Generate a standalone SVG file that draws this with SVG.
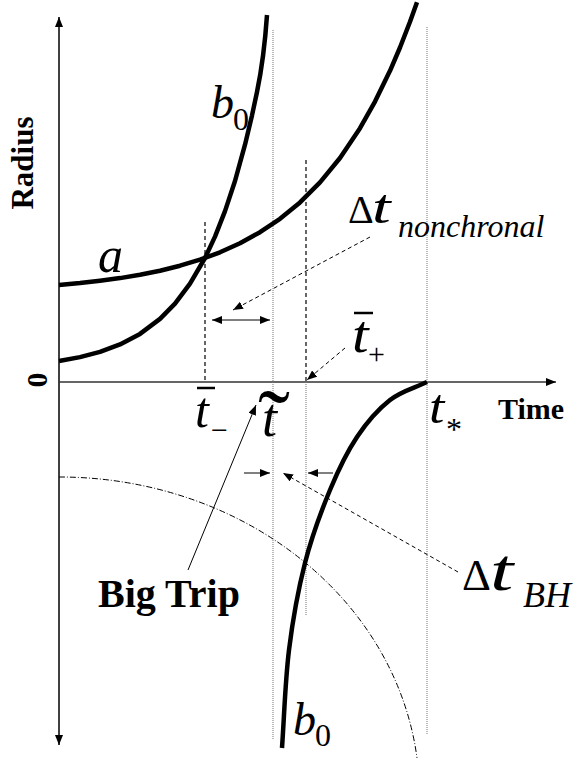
<svg xmlns="http://www.w3.org/2000/svg" width="587" height="758" viewBox="0 0 587 758" font-family="'Liberation Serif','Times New Roman',serif">
<style>
text{font-family:"Liberation Serif","Times New Roman",serif;fill:#000}
.b{font-weight:bold}
.i{font-style:italic}
.curve{fill:none;stroke:#000;stroke-width:4.5;stroke-linejoin:round}
.dash{stroke:#000;stroke-width:1.2;stroke-dasharray:4 3;fill:none}
.dot{stroke:#777;stroke-width:1;stroke-dasharray:1 1;fill:none}
.lead{stroke:#000;stroke-width:1;fill:none}
.ldash{stroke:#000;stroke-width:1;stroke-dasharray:4 3;fill:none}
.bar{stroke:#000;stroke-width:2.5}
</style>
<defs>
<marker id="ah" markerUnits="userSpaceOnUse" markerWidth="10" markerHeight="8" refX="10" refY="4" orient="auto-start-reverse"><path d="M0,0 L10,4 L0,8 z" fill="#000"/></marker>
</defs>
<g id="axes">
<line x1="59" y1="745" x2="59" y2="17" stroke="#000" stroke-width="1.5" marker-end="url(#ah)" marker-start="url(#ah)"/>
<line x1="59" y1="382" x2="556" y2="382" stroke="#333" stroke-width="1.5" marker-end="url(#ah)"/>
</g>
<g id="guides">
<line class="dash" x1="205" y1="222" x2="205" y2="382"/>
<line class="dash" x1="306" y1="160" x2="306" y2="382"/>
<line class="dot" x1="273" y1="30" x2="273" y2="740"/>
<line class="dot" x1="306" y1="382" x2="306" y2="615"/>
<line class="dot" x1="427" y1="27" x2="427" y2="735"/>
<path d="M59,477 A360 318 0 0 1 417,758" fill="none" stroke="#000" stroke-width="1" stroke-dasharray="6 2 1 2"/>
</g>
<g id="curve-a">
<path class="curve" d="M59,285 L80,283.1 L100,280.8 L120,278.1 L140,274.8 L160,270.7 L180,265.7 L200,259.7 L220,252.3 L240,243.2 L260,232.2 L280,218.8 L300,202.4 L320,182.4 L340,158 L360,128.2 L375,101.6 L390,70.8 L400,47.5 L410,21.8 L417,2.2"/>
</g>
<g id="curve-b0-upper">
<path class="curve" d="M59,361 L80,357.1 L100,351.9 L120,344.4 L140,333.9 L160,318.9 L175,303.6 L190,283.7 L205,258 L215,236.6 L225,211.1 L235,181 L245,144.7 L252,115.4 L257,92 C262,68 265.5,37 267,15"/>
</g>
<g id="curve-b0-lower">
<path class="curve" d="M427,382 C414.7,388 401.7,390.8 390,400 C378.3,409.2 367,422 357,437 C347,452 338.7,469 330,490 C321.3,511 311.8,536.3 305,563 C298.2,589.7 292.8,619.2 289,650 C285.2,680.8 284.3,715.3 282,748"/>
</g>
<g id="connectors">
<line class="lead" x1="212" y1="320" x2="270" y2="320" marker-start="url(#ah)" marker-end="url(#ah)"/>
<line class="ldash" x1="370" y1="237" x2="233" y2="310" marker-end="url(#ah)"/>
<line class="ldash" x1="345" y1="348" x2="307" y2="380" marker-end="url(#ah)"/>
<line class="lead" x1="188" y1="570" x2="256" y2="405" marker-end="url(#ah)"/>
<line class="lead" x1="244" y1="473" x2="270" y2="473" marker-end="url(#ah)"/>
<line class="lead" x1="333" y1="473" x2="308" y2="473" marker-end="url(#ah)"/>
<line class="ldash" x1="458" y1="572" x2="283" y2="473" marker-end="url(#ah)"/>
</g>
<g id="label-radius"><text class="b" x="33" y="163" font-size="31" text-anchor="middle" transform="rotate(-90 33 163)">Radius</text></g>
<g id="label-zero"><text class="b" x="47" y="380" font-size="30" text-anchor="middle" transform="rotate(-90 47 380)">0</text></g>
<g id="label-time"><text class="b" x="498" y="419" font-size="30">Time</text></g>
<g id="label-bigtrip"><text class="b" x="98" y="607" font-size="40">Big Trip</text></g>
<g id="label-a"><text class="i" x="98" y="272" font-size="50">a</text></g>
<g id="label-b0-upper"><text class="i" x="211" y="118" font-size="46">b</text><text x="233" y="130" font-size="32">0</text></g>
<g id="label-b0-lower"><text class="i" x="293" y="735" font-size="46">b</text><text x="315" y="746" font-size="32">0</text></g>
<g id="label-dt-nonchronal"><text x="348" y="223" font-size="40">Δ</text><text class="i" font-size="48" transform="translate(372 223) scale(1.4 1)">t</text><text class="i" x="398" y="237" font-size="32">nonchronal</text></g>
<g id="label-dt-bh"><text x="462" y="590" font-size="45">Δ</text><text class="i" font-size="60" transform="translate(490 590) scale(1.4 1)">t</text><text class="i" x="523" y="607" font-size="36">BH</text></g>
<g id="label-tminus"><text class="i" x="195" y="427" font-size="50">t</text><line class="bar" x1="197" y1="388" x2="215" y2="388"/><text x="211" y="440" font-size="30">−</text></g>
<g id="label-ttilde"><text class="i" x="262" y="436" font-size="54">t</text><text font-size="96" text-anchor="middle" x="274" y="455">˜</text></g>
<g id="label-tplus"><text class="i" font-size="52" transform="translate(352 352) scale(1.15 1)">t</text><line class="bar" x1="354" y1="313" x2="373" y2="313"/><text x="368" y="364" font-size="30">+</text></g>
<g id="label-tstar"><text class="i" font-size="48" transform="translate(429 423) scale(1.15 1)">t</text><text x="446" y="440" font-size="32">*</text></g>
</svg>
